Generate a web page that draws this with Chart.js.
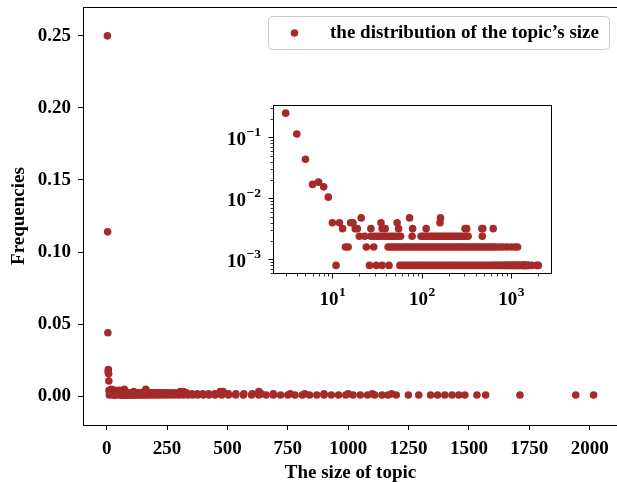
<!DOCTYPE html>
<html>
<head>
<meta charset="utf-8">
<script src="https://cdn.jsdelivr.net/npm/chart.js@4.4.1/dist/chart.umd.min.js"></script>
<style>
  html, body { margin: 0; padding: 0; background: #fff; overflow: hidden; }
  #wrap { position: relative; width: 617px; height: 482px; overflow: hidden; }
  #main, #inset { position: absolute; left: 0; top: 0; }
</style>
</head>
<body>
<div id="wrap">
  <canvas id="main" width="622" height="482"></canvas>
  <canvas id="inset" width="617" height="482"></canvas>
</div>
<script>
// the few big topic sizes at the head of the distribution
const headSizes = [3, 4, 5, 6, 7, 8, 9];
const headFreqs = [0.25, 0.114, 0.044, 0.017, 0.0185, 0.0155, 0.0105];

// the tail sits on a handful of discrete frequency levels
const tailLevels = [0.0048, 0.004, 0.0032, 0.0024, 0.0016, 0.0008];
const sizes48 = [21, 73, 162];
const sizes40 = [10, 12, 16, 17, 35, 53, 160];
const sizes32 = [13, 18, 19, 27, 36, 39, 55, 79, 112, 305, 318, 470, 482, 630];
const sizes24 = [20, 23, 27, 29, 31, 33, 35, 38, 41, 44, 47, 50, 54, 58, 78, 98, 103, 109, 115,
  122, 129, 136, 144, 152, 161, 170, 180, 190, 201, 212, 224, 237, 250, 264, 279, 295, 312, 330, 476];
const sizes16 = [14, 15, 24, 29, 42, 45, 48, 51, 54, 58, 62, 66, 70, 74, 79, 84, 89, 95, 101, 107,
  114, 121, 128, 136, 145, 154, 163, 173, 184, 195, 207, 220, 234, 248, 263, 279, 296, 314, 333,
  353, 375, 398, 422, 448, 475, 504, 535, 568, 603, 640, 690, 760, 820, 900, 1000, 1100, 1180];
const sizes08 = [11, 26, 31, 36, 43, 57, 60, 63, 67, 71, 75, 79, 84, 89, 94, 100, 106, 112, 119,
  126, 133, 141, 149, 158, 167, 177, 188, 199, 211, 224, 237, 251, 266, 282, 299, 317, 336, 356,
  377, 400, 424, 449, 476, 504, 534, 566, 600, 630, 660, 690, 720, 750, 780, 810, 840, 870, 900,
  930, 960, 990, 1020, 1050, 1080, 1110, 1140, 1165, 1199, 1249, 1292, 1341, 1370, 1400, 1430,
  1458, 1483, 1533, 1569, 1711, 1942, 2016];

const xTicks = [0, 250, 500, 750, 1000, 1250, 1500, 1750, 2000];
const yTicks = [0, 0.05, 0.10, 0.15, 0.20, 0.25];
const insetXMajor = [10, 100, 1000];
const insetYMajor = [0.1, 0.01, 0.001];

const seriesLabel = 'the distribution of the topic\u2019s size';
const brown = '#a52a2a';

Chart.defaults.font.family = "'Liberation Serif', 'Times New Roman', serif";
Chart.defaults.font.weight = 'bold';
Chart.defaults.font.size = 19;
Chart.defaults.color = '#000';

const points = headSizes.map((s, i) => ({ x: s, y: headFreqs[i] }));
[sizes48, sizes40, sizes32, sizes24, sizes16, sizes08].forEach((list, k) => {
  list.forEach(s => points.push({ x: s, y: tailLevels[k] }));
});

// frame + legend for the main axes
const mainDecor = {
  id: 'mainDecor',
  afterDraw(chart) {
    const { ctx, chartArea: a } = chart;
    ctx.save();
    ctx.strokeStyle = '#000';
    ctx.lineWidth = 1;
    ctx.strokeRect(Math.round(a.left) + 0.5, Math.round(a.top) + 0.5,
      Math.round(a.right - a.left), Math.round(a.bottom - a.top));

    // legend box
    const x0 = 268.5, y0 = 16.5, w = 341, h = 33, r = 4;
    ctx.beginPath();
    ctx.moveTo(x0 + r, y0);
    ctx.arcTo(x0 + w, y0, x0 + w, y0 + h, r);
    ctx.arcTo(x0 + w, y0 + h, x0, y0 + h, r);
    ctx.arcTo(x0, y0 + h, x0, y0, r);
    ctx.arcTo(x0, y0, x0 + w, y0, r);
    ctx.closePath();
    ctx.fillStyle = 'rgba(255,255,255,0.8)';
    ctx.fill();
    ctx.strokeStyle = '#cccccc';
    ctx.stroke();

    ctx.fillStyle = brown;
    ctx.beginPath();
    ctx.arc(294.5, 33, 3.8, 0, Math.PI * 2);
    ctx.fill();

    ctx.fillStyle = '#000';
    ctx.font = "bold 19px 'Liberation Serif', serif";
    ctx.textBaseline = 'alphabetic';
    ctx.textAlign = 'left';
    ctx.fillText(chart.data.datasets[0].label, 330, 38);
    ctx.restore();
  }
};

// no extra room for half-labels at the ends, axes box is fixed like matplotlib's
function noEndPadding(s) {
  s.paddingTop = 0;
  s.paddingBottom = 0;
  s.paddingLeft = 0;
  s.paddingRight = 0;
}

new Chart(document.getElementById('main'), {
  type: 'scatter',
  data: {
    datasets: [{
      label: seriesLabel,
      data: points,
      backgroundColor: brown,
      borderWidth: 0,
      pointRadius: 3.8
    }]
  },
  options: {
    responsive: false,
    animation: false,
    devicePixelRatio: 1,
    events: [],
    layout: { padding: { top: 7, right: 2, left: 0, bottom: 0 } },
    plugins: { legend: { display: false }, tooltip: { enabled: false } },
    scales: {
      x: {
        type: 'linear',
        min: -98,
        max: 2117,
        afterFit: s => { s.height = 57; noEndPadding(s); },
        afterBuildTicks: s => { s.ticks = xTicks.map(v => ({ value: v })); },
        grid: { drawOnChartArea: false, drawTicks: true, tickLength: 5, color: '#000' },
        border: { display: true, color: '#000', width: 1 },
        ticks: { padding: 8, maxRotation: 0, autoSkip: false, callback: v => String(v) },
        title: { display: true, text: 'The size of topic', font: { size: 19, weight: 'bold', lineHeight: 1 }, padding: { top: 0, bottom: -1 } }
      },
      y: {
        min: -0.02,
        max: 0.27,
        afterFit: s => { s.width = 83; noEndPadding(s); },
        afterBuildTicks: s => { s.ticks = yTicks.map(v => ({ value: v })); },
        grid: { drawOnChartArea: false, drawTicks: true, tickLength: 5, color: '#000' },
        border: { display: true, color: '#000', width: 1 },
        ticks: { padding: 7, autoSkip: false, callback: v => v.toFixed(2) },
        title: { display: true, text: 'Frequencies', font: { size: 19, weight: 'bold', lineHeight: 1 }, padding: { top: 10, bottom: 0 } }
      }
    }
  },
  plugins: [mainDecor]
});

// inset: log-log view, ticks and 10^n labels drawn off the chart's own scales
function supText(n) {
  return n < 0 ? '\u2212' + Math.abs(n) : String(n);
}

const insetDecor = {
  id: 'insetDecor',
  beforeDraw(chart) {
    const { ctx, chartArea: a } = chart;
    ctx.save();
    ctx.fillStyle = '#fff';
    ctx.fillRect(a.left, a.top, a.right - a.left, a.bottom - a.top);
    ctx.restore();
  },
  afterDraw(chart) {
    const { ctx, chartArea: a, scales } = chart;
    const xs = scales.x, ys = scales.y;
    ctx.save();
    ctx.strokeStyle = '#000';
    ctx.lineWidth = 1;
    ctx.strokeRect(Math.round(a.left) + 0.5, Math.round(a.top) + 0.5,
      Math.round(a.right - a.left), Math.round(a.bottom - a.top));

    const bottom = Math.round(a.bottom) + 0.5, left = Math.round(a.left) + 0.5;
    // x ticks
    for (let e = 0; e <= 3; e++) {
      for (let m = 1; m <= 9; m++) {
        const v = m * Math.pow(10, e);
        if (v < xs.min || v > xs.max) continue;
        const px = Math.round(xs.getPixelForValue(v)) + 0.5;
        const len = m === 1 ? 5 : 3;
        ctx.lineWidth = m === 1 ? 1 : 0.8;
        ctx.beginPath();
        ctx.moveTo(px, bottom);
        ctx.lineTo(px, bottom + len);
        ctx.stroke();
      }
    }
    // y ticks
    for (let e = -4; e <= 0; e++) {
      for (let m = 1; m <= 9; m++) {
        const v = m * Math.pow(10, e);
        if (v < ys.min || v > ys.max) continue;
        const py = Math.round(ys.getPixelForValue(v)) + 0.5;
        const len = m === 1 ? 5 : 3;
        ctx.lineWidth = m === 1 ? 1 : 0.8;
        ctx.beginPath();
        ctx.moveTo(left, py);
        ctx.lineTo(left - len, py);
        ctx.stroke();
      }
    }

    const bigFont = "bold 19px 'Liberation Serif', serif";
    const supFont = "bold 13.5px 'Liberation Serif', serif";
    ctx.fillStyle = '#000';
    ctx.textBaseline = 'alphabetic';
    ctx.textAlign = 'left';
    insetXMajor.forEach(v => {
      const px = xs.getPixelForValue(v);
      const sup = supText(Math.round(Math.log10(v)));
      ctx.font = bigFont; const w1 = ctx.measureText('10').width;
      ctx.font = supFont; const w2 = ctx.measureText(sup).width;
      const x0 = px - (w1 + w2) / 2;
      ctx.font = bigFont; ctx.fillText('10', x0, a.bottom + 32);
      ctx.font = supFont; ctx.fillText(sup, x0 + w1 + 0.5, a.bottom + 23);
    });
    insetYMajor.forEach(v => {
      const py = ys.getPixelForValue(v);
      const sup = supText(Math.round(Math.log10(v)));
      ctx.font = bigFont; const w1 = ctx.measureText('10').width;
      ctx.font = supFont; const w2 = ctx.measureText(sup).width;
      const right = a.left - 12;
      ctx.font = bigFont; ctx.fillText('10', right - w2 - w1 - 0.5, py + 8);
      ctx.font = supFont; ctx.fillText(sup, right - w2, py - 1);
    });
    ctx.restore();
  }
};

new Chart(document.getElementById('inset'), {
  type: 'scatter',
  data: {
    datasets: [{
      label: seriesLabel,
      data: points,
      backgroundColor: brown,
      borderWidth: 0,
      pointRadius: 3.8
    }]
  },
  options: {
    responsive: false,
    animation: false,
    devicePixelRatio: 1,
    events: [],
    layout: { padding: { left: 273, top: 105, right: 66, bottom: 209 } },
    plugins: { legend: { display: false }, tooltip: { enabled: false } },
    scales: {
      x: { type: 'logarithmic', min: 2.166, max: 2792, display: false },
      y: { type: 'logarithmic', min: 0.0006, max: 0.34, display: false }
    }
  },
  plugins: [insetDecor]
});
</script>
</body>
</html>
